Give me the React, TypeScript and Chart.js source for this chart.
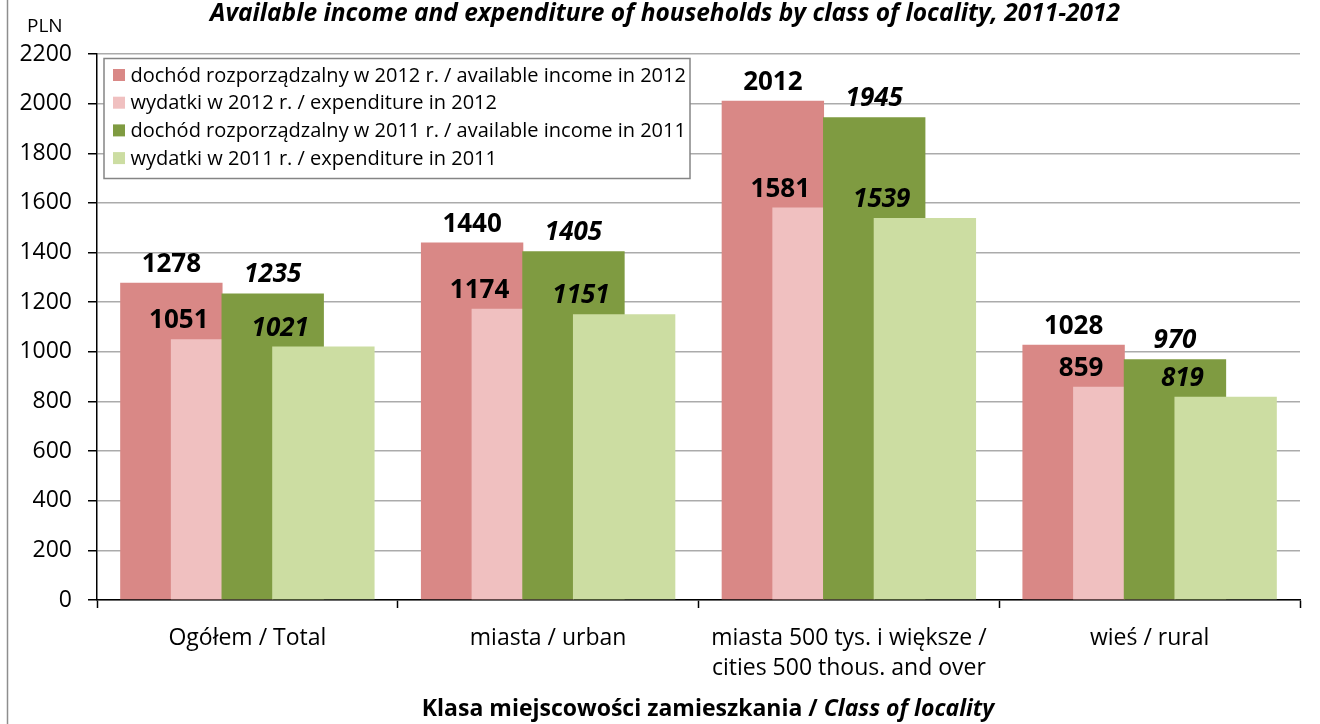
import React, { useEffect, useRef } from 'react';
import { Chart, registerables } from 'chart.js';

Chart.register(...registerables);

const categories: string[][] = [
  ['Ogółem / Total'],
  ['miasta / urban'],
  ['miasta 500 tys. i większe /', 'cities 500 thous. and over'],
  ['wieś / rural'],
];
const seriesLabels = [
  'dochód rozporządzalny w 2012 r. / available income in 2012',
  'wydatki w 2012 r. / expenditure in 2012',
  'dochód rozporządzalny w 2011 r. / available income in 2011',
  'wydatki w 2011 r. / expenditure in 2011',
];
const income2012 = [1278, 1440, 2012, 1028];
const expenditure2012 = [1051, 1174, 1581, 859];
const income2011 = [1235, 1405, 1945, 970];
const expenditure2011 = [1021, 1151, 1539, 819];
const seriesColors = ['#D98886', '#F0C0C0', '#7F9B41', '#CCDDA2'];

const titleText = 'Available income and expenditure of households by class of locality, 2011-2012';
const yUnit = 'PLN';
const xTitleBold = 'Klasa miejscowości zamieszkania / ';
const xTitleItalic = 'Class of locality';
const yMin = 0;
const yMax = 2200;
const yStep = 200;

const FONT = '"Open Sans", "DejaVu Sans", sans-serif';

const overlayPlugin = {
  id: 'overlay',
  beforeDraw(chart: any) {
    const ctx = chart.ctx;
    ctx.save();
    ctx.fillStyle = '#ffffff';
    ctx.fillRect(0, 0, chart.width, chart.height);
    ctx.strokeStyle = '#8e8e8e';
    ctx.lineWidth = 1.5;
    ctx.beginPath();
    ctx.moveTo(7.5, 0);
    ctx.lineTo(7.5, chart.height);
    ctx.stroke();
    ctx.restore();
  },
  beforeDatasetsDraw(chart: any) {
    chart.data.datasets.forEach((_: any, i: number) => {
      const meta = chart.getDatasetMeta(i);
      if (chart.isDatasetVisible(i)) meta.controller.draw();
    });
    return false;
  },
  afterDraw(chart: any) {
    const ctx = chart.ctx;
    ctx.save();
    // data labels
    chart.data.datasets.forEach((ds: any, i: number) => {
      const meta = chart.getDatasetMeta(i);
      const italic = i >= 2;
      const expenditure = i % 2 === 1;
      ctx.font = `${italic ? 'italic ' : ''}bold 26px ${FONT}`;
      ctx.fillStyle = '#000';
      ctx.textAlign = 'center';
      ctx.textBaseline = 'alphabetic';
      meta.data.forEach((bar: any, j: number) => {
        const x = expenditure ? bar.x - bar.width / 2 + 8 : bar.x;
        ctx.fillText(String(ds.data[j]), x, bar.y - 11);
      });
    });

    // legend box
    const lx = 104, ly = 58.5, lw = 586, lh = 120;
    ctx.fillStyle = '#ffffff';
    ctx.fillRect(lx, ly, lw, lh);
    ctx.strokeStyle = '#858585';
    ctx.lineWidth = 1.5;
    ctx.strokeRect(lx, ly, lw, lh);
    ctx.font = `20px ${FONT}`;
    ctx.textAlign = 'left';
    ctx.textBaseline = 'middle';
    chart.data.datasets.forEach((ds: any, i: number) => {
      const cy = 75 + i * 27.7;
      ctx.fillStyle = ds.backgroundColor;
      ctx.fillRect(113, cy - 6, 12, 12);
      ctx.fillStyle = '#000';
      ctx.fillText(ds.label, 130.5, cy + 1);
    });

    // title
    ctx.textAlign = 'center';
    ctx.textBaseline = 'alphabetic';
    ctx.font = `italic bold 24.5px ${FONT}`;
    ctx.fillText(titleText, 665, 21);

    // unit
    ctx.textAlign = 'left';
    ctx.font = `19px ${FONT}`;
    ctx.fillText(yUnit, 27, 32);

    // x-axis title
    ctx.font = `bold 23px ${FONT}`;
    const w1 = ctx.measureText(xTitleBold).width;
    ctx.font = `italic bold 23px ${FONT}`;
    const w2 = ctx.measureText(xTitleItalic).width;
    const start = 708 - (w1 + w2) / 2;
    ctx.font = `bold 23px ${FONT}`;
    ctx.fillText(xTitleBold, start, 716);
    ctx.font = `italic bold 23px ${FONT}`;
    ctx.fillText(xTitleItalic, start + w1, 716);
    ctx.restore();
  },
};

export default function App() {
  const ref = useRef<HTMLCanvasElement>(null);
  useEffect(() => {
    let chart: Chart | null = null;
    let cancelled = false;
    const build = () => {
      if (cancelled || !ref.current) return;
      chart = new Chart(ref.current, {
        type: 'bar',
        data: {
          labels: categories,
          datasets: [income2012, expenditure2012, income2011, expenditure2011].map((d, i) => ({
            label: seriesLabels[i],
            data: d,
            backgroundColor: seriesColors[i],
            borderWidth: 0,
            categoryPercentage: 0.674,
            barPercentage: 2.02,
          })),
        },
        options: {
          animation: false,
          responsive: false,
          devicePixelRatio: 1,
          layout: { padding: { left: 8, right: 20, top: 54, bottom: 0 } },
          plugins: {
            legend: { display: false },
            title: { display: false },
            tooltip: { enabled: false },
          },
          scales: {
            x: {
              offset: true,
              grid: {
                offset: true,
                drawOnChartArea: false,
                drawTicks: true,
                tickLength: 8,
                tickColor: '#000',
                tickWidth: 1.5,
              },
              border: { color: '#000', width: 1.5 },
              ticks: {
                color: '#000',
                font: { family: FONT, size: 23, lineHeight: 1.32 },
                padding: 15,
                maxRotation: 0,
                autoSkip: false,
              },
              afterFit: (scale: any) => {
                scale.height = 124;
              },
            },
            y: {
              min: yMin,
              max: yMax,
              grid: {
                color: '#ababab',
                lineWidth: 1.5,
                tickColor: '#000',
                tickLength: 9,
                tickWidth: 1.5,
              },
              border: { color: '#000', width: 1.5 },
              ticks: {
                stepSize: yStep,
                color: '#000',
                font: { family: FONT, size: 23 },
                padding: 16,
                callback: (v: any) => String(v),
              },
              afterFit: (scale: any) => {
                scale.width = 89;
              },
            },
          },
        },
        plugins: [overlayPlugin],
      });
    };
    const fonts = (document as any).fonts;
    if (fonts && fonts.load) {
      Promise.all([
        fonts.load(`18px "Open Sans"`),
        fonts.load(`bold 18px "Open Sans"`),
        fonts.load(`italic bold 18px "Open Sans"`),
      ]).then(build, build);
    } else build();
    return () => {
      cancelled = true;
      if (chart) chart.destroy();
    };
  }, []);
  return (
    <div style={{ position: 'fixed', left: 0, top: 0, width: 1320, height: 724, background: '#fff' }}>
      <canvas ref={ref} width={1320} height={724} style={{ display: 'block' }} />
    </div>
  );
}
